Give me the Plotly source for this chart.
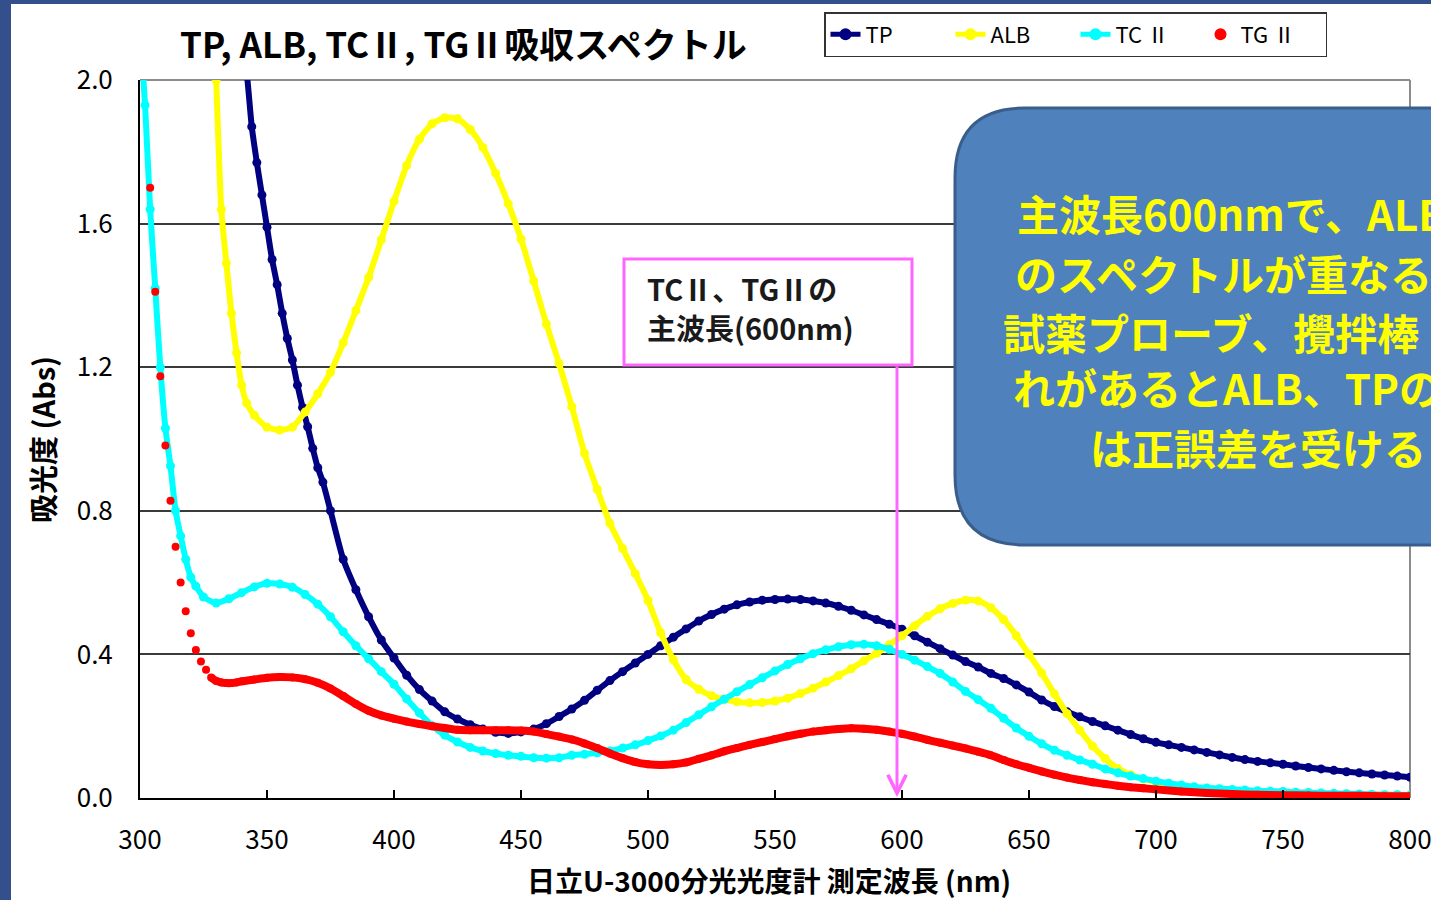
import plotly.graph_objects as go

# ---------------- data ----------------
tp_nm = [340, 342, 344, 346, 348, 350, 352, 354, 356, 358, 360, 362, 364, 366, 368, 370, 372,
         375, 380, 385, 390, 395, 400, 405, 410, 415, 420, 425, 430, 435, 440, 445, 450, 455, 460,
         465, 470, 475, 480, 485, 490, 495, 500, 505, 510, 515, 520, 525, 530, 535, 540, 545, 550,
         555, 560, 565, 570, 575, 580, 585, 590, 595, 600, 605, 610, 615, 620, 625, 630, 635, 640,
         645, 650, 655, 660, 665, 670, 675, 680, 685, 690, 695, 700, 705, 710, 715, 720, 725, 730,
         735, 740, 745, 750, 755, 760, 765, 770, 775, 780, 785, 790, 795, 800]
tp_abs = [2.10, 2.02, 1.87, 1.77, 1.68, 1.59, 1.50, 1.43, 1.35, 1.28, 1.22, 1.15, 1.088, 1.034, 0.974, 0.92, 0.88,
          0.80, 0.665, 0.58, 0.505, 0.44, 0.39, 0.342, 0.302, 0.27, 0.24, 0.22, 0.204, 0.192, 0.183, 0.180, 0.184, 0.192, 0.207,
          0.227, 0.248, 0.272, 0.300, 0.327, 0.352, 0.376, 0.400, 0.424, 0.448, 0.471, 0.493, 0.511, 0.526, 0.538, 0.546, 0.551, 0.553,
          0.554, 0.553, 0.549, 0.543, 0.534, 0.523, 0.510, 0.497, 0.484, 0.470, 0.452, 0.434, 0.416, 0.398, 0.380, 0.365, 0.347, 0.333,
          0.315, 0.295, 0.273, 0.255, 0.240, 0.226, 0.213, 0.201, 0.189, 0.177, 0.165, 0.155, 0.148, 0.141, 0.134, 0.127, 0.120, 0.113,
          0.107, 0.102, 0.098, 0.094, 0.089, 0.085, 0.081, 0.077, 0.073, 0.070, 0.067, 0.064, 0.061, 0.058]

alb_nm = [328, 330, 332, 334, 336, 338, 340, 342, 345, 350, 355, 360, 365, 370, 375, 380, 385, 390, 395,
          400, 405, 410, 415, 420, 425, 430, 435, 440, 445, 450, 455, 460, 465, 470, 475, 480, 485, 490, 495,
          500, 505, 510, 515, 520, 525, 530, 535, 540, 545, 550, 555, 560, 565, 570, 575, 580, 585, 590, 595,
          600, 605, 610, 615, 620, 625, 630, 635, 640, 645, 650, 655, 660, 665, 670, 675, 680, 685, 690, 695,
          700, 705, 710, 715, 720, 725, 730, 735, 740, 745, 750, 755, 760, 765, 770, 775, 780, 785, 790, 795, 800]
alb_abs = [2.45, 2.00, 1.64, 1.49, 1.35, 1.24, 1.15, 1.10, 1.066, 1.033, 1.025, 1.033, 1.075, 1.126, 1.186, 1.268, 1.358, 1.450, 1.555,
           1.662, 1.762, 1.835, 1.878, 1.895, 1.892, 1.862, 1.812, 1.740, 1.655, 1.557, 1.44, 1.32, 1.21, 1.09, 0.96, 0.86, 0.765, 0.695, 0.625,
           0.55, 0.46, 0.385, 0.33, 0.303, 0.285, 0.275, 0.268, 0.265, 0.266, 0.270, 0.278, 0.291, 0.306, 0.323, 0.341, 0.36, 0.382, 0.403, 0.427,
           0.452, 0.480, 0.506, 0.527, 0.542, 0.551, 0.549, 0.530, 0.497, 0.452, 0.400, 0.348, 0.290, 0.235, 0.189, 0.145, 0.110, 0.082, 0.065, 0.053,
           0.044, 0.036, 0.030, 0.027, 0.024, 0.022, 0.020, 0.019, 0.017, 0.016, 0.015, 0.014, 0.013, 0.012, 0.011, 0.011, 0.010, 0.010, 0.009, 0.009, 0.008]

tc_nm = [300, 302, 304, 306, 308, 310, 312, 314, 316, 318, 320, 322, 325, 330, 335, 340, 345, 350, 355,
         360, 365, 370, 375, 380, 385, 390, 395, 400, 405, 410, 415, 420, 425, 430, 435, 440, 445, 450, 455,
         460, 465, 470, 475, 480, 485, 490, 495, 500, 505, 510, 515, 520, 525, 530, 535, 540, 545, 550, 555,
         560, 565, 570, 575, 580, 585, 590, 595, 600, 605, 610, 615, 620, 625, 630, 635, 640, 645, 650, 655,
         660, 665, 670, 675, 680, 685, 690, 695, 700, 705, 710, 715, 720, 725, 730, 735, 740, 745, 750, 755,
         760, 765, 770, 775, 780, 785, 790, 795, 800]
tc_abs = [2.15, 1.93, 1.64, 1.42, 1.20, 1.03, 0.925, 0.80, 0.73, 0.665, 0.615, 0.59, 0.56, 0.543, 0.555, 0.572, 0.588, 0.598, 0.596,
          0.587, 0.567, 0.540, 0.505, 0.463, 0.424, 0.388, 0.352, 0.317, 0.276, 0.237, 0.201, 0.175, 0.156, 0.141, 0.131, 0.124, 0.119, 0.116, 0.112,
          0.111, 0.112, 0.119, 0.122, 0.126, 0.131, 0.139, 0.148, 0.160, 0.173, 0.189, 0.210, 0.232, 0.254, 0.275, 0.296, 0.316, 0.335, 0.354, 0.372,
          0.388, 0.402, 0.413, 0.421, 0.427, 0.428, 0.424, 0.414, 0.400, 0.384, 0.366, 0.347, 0.323, 0.297, 0.274, 0.250, 0.222, 0.195, 0.172, 0.151,
          0.133, 0.119, 0.106, 0.094, 0.081, 0.070, 0.061, 0.054, 0.047, 0.041, 0.036, 0.031, 0.028, 0.026, 0.024, 0.022, 0.020, 0.019, 0.018, 0.016,
          0.015, 0.014, 0.013, 0.012, 0.011, 0.010, 0.009, 0.009, 0.008]

tg_nm = [304, 306, 308, 310, 312, 314, 316, 318, 320, 322, 324, 326, 328, 330, 332, 334, 336, 338, 340,
         345, 350, 355, 360, 365, 370, 375, 380, 385, 390, 395, 400, 405, 410, 415, 420, 425, 430, 435, 440,
         445, 450, 455, 460, 465, 470, 475, 480, 485, 490, 495, 500, 505, 510, 515, 520, 525, 530, 535, 540,
         545, 550, 555, 560, 565, 570, 575, 580, 585, 590, 595, 600, 605, 610, 615, 620, 625, 630, 635, 640,
         645, 650, 655, 660, 665, 670, 675, 680, 685, 690, 695, 700, 710, 720, 730, 740, 750, 760, 770, 780, 790, 800]
tg_abs = [1.70, 1.41, 1.175, 0.982, 0.828, 0.700, 0.600, 0.520, 0.459, 0.412, 0.380, 0.357, 0.336, 0.326, 0.322, 0.320, 0.320, 0.322, 0.325,
          0.330, 0.335, 0.337, 0.336, 0.331, 0.321, 0.305, 0.284, 0.262, 0.243, 0.230, 0.221, 0.213, 0.206, 0.200, 0.195, 0.190, 0.189, 0.189, 0.189,
          0.189, 0.188, 0.185, 0.178, 0.171, 0.163, 0.152, 0.139, 0.124, 0.111, 0.100, 0.094, 0.092, 0.094, 0.099, 0.109, 0.119, 0.130, 0.139, 0.148,
          0.156, 0.164, 0.172, 0.179, 0.185, 0.189, 0.192, 0.194, 0.193, 0.190, 0.185, 0.179, 0.171, 0.162, 0.154, 0.146, 0.138, 0.129, 0.119, 0.106,
          0.094, 0.084, 0.074, 0.065, 0.057, 0.050, 0.044, 0.039, 0.034, 0.030, 0.027, 0.024, 0.018, 0.014, 0.011, 0.009, 0.008, 0.007, 0.006, 0.006, 0.005, 0.005]

x_ticks = [300, 350, 400, 450, 500, 550, 600, 650, 700, 750, 800]
y_ticks = [0.0, 0.4, 0.8, 1.2, 1.6, 2.0]

title_text = "TP, ALB, TCⅡ, TGⅡ吸収スペクトル"
y_title = "吸光度 (Abs)"
x_title = "日立U-3000分光光度計 測定波長 (nm)"
note_lines = ["TCⅡ、TGⅡの", "主波長(600nm)"]
box_lines = ["主波長600nmで、ALB", "のスペクトルが重なる", "試薬プローブ、攪拌棒", "れがあるとALB、TPの", "は正誤差を受ける"]

# ---------------- layout helpers (pixel -> paper) ----------------
L, R, T, B = 140, 1410, 80, 798
def fx(px):
    return (px - L) / (R - L)
def fy(py):
    return (B - py) / (B - T)

FONT = "Noto Sans CJK JP"
C_TP, C_ALB, C_TC, C_TG = "#000080", "#FFFF00", "#00FFFF", "#FF0000"

fig = go.Figure()
fig.add_trace(go.Scatter(x=tp_nm, y=tp_abs, name="TP", mode="lines+markers",
                         line=dict(color=C_TP, width=6, shape="spline", smoothing=0.6),
                         marker=dict(color=C_TP, size=9)))
fig.add_trace(go.Scatter(x=alb_nm, y=alb_abs, name="ALB", mode="lines+markers",
                         line=dict(color=C_ALB, width=6, shape="spline", smoothing=0.6),
                         marker=dict(color=C_ALB, size=9)))
fig.add_trace(go.Scatter(x=tc_nm, y=tc_abs, name="TC Ⅱ", mode="lines+markers",
                         line=dict(color=C_TC, width=6, shape="spline", smoothing=0.6),
                         marker=dict(color=C_TC, size=9)))
# dense TG II dots merge into a band once the curve flattens
k = tg_nm.index(328)
fig.add_trace(go.Scatter(x=tg_nm[k:], y=tg_abs[k:], mode="lines", showlegend=False, hoverinfo="skip",
                         line=dict(color=C_TG, width=8, shape="spline", smoothing=0.6)))
fig.add_trace(go.Scatter(x=tg_nm, y=tg_abs, name="TG Ⅱ", mode="markers",
                         marker=dict(color=C_TG, size=8)))

shapes = []
# slide frame strips
shapes.append(dict(type="rect", xref="paper", yref="paper", x0=fx(-5), x1=fx(11), y0=fy(905), y1=fy(-5),
                   fillcolor="#34508C", line=dict(width=0), layer="below"))
shapes.append(dict(type="rect", xref="paper", yref="paper", x0=fx(-5), x1=fx(1440), y0=fy(4), y1=fy(-5),
                   fillcolor="#34508C", line=dict(width=0), layer="below"))
# top / right plot border (gray)
shapes.append(dict(type="line", xref="paper", yref="paper", x0=0, x1=1, y0=1, y1=1,
                   line=dict(color="#8C8C8C", width=2), layer="below"))
shapes.append(dict(type="line", xref="paper", yref="paper", x0=1, x1=1, y0=0, y1=1,
                   line=dict(color="#8C8C8C", width=2), layer="below"))
# pink note box
shapes.append(dict(type="rect", xref="paper", yref="paper", x0=fx(624), x1=fx(912), y0=fy(365), y1=fy(259),
                   fillcolor="white", line=dict(color="#FF66FF", width=3), layer="above"))
# blue rounded call-out box
x0, x1, y0, y1, r = 955, 1520, 108, 545, 70
pts = [("M", x0 + r, y0), ("L", x1 - r, y0), ("Q", x1, y0, x1, y0 + r), ("L", x1, y1 - r),
       ("Q", x1, y1, x1 - r, y1), ("L", x0 + r, y1), ("Q", x0, y1, x0, y1 - r), ("L", x0, y0 + r),
       ("Q", x0, y0, x0 + r, y0)]
path = ""
for p in pts:
    if p[0] == "Q":
        path += f"Q{fx(p[1]):.5f},{fy(p[2]):.5f} {fx(p[3]):.5f},{fy(p[4]):.5f} "
    else:
        path += f"{p[0]}{fx(p[1]):.5f},{fy(p[2]):.5f} "
path += "Z"
shapes.append(dict(type="path", xref="paper", yref="paper", path=path,
                   fillcolor="#4F81BD", line=dict(color="#3A5E8C", width=3), layer="above"))

annotations = []
annotations.append(dict(text=title_text, xref="paper", yref="paper", x=fx(178), y=fy(43),
                        xanchor="left", yanchor="middle", showarrow=False,
                        font=dict(family=FONT, size=35, color="#000000", weight="bold")))
annotations.append(dict(text=y_title, xref="paper", yref="paper", x=fx(42), y=fy(440),
                        xanchor="center", yanchor="middle", showarrow=False, textangle=-90,
                        font=dict(family=FONT, size=29, color="#000000", weight="bold")))
annotations.append(dict(text=x_title, xref="paper", yref="paper", x=fx(769), y=fy(880),
                        xanchor="center", yanchor="middle", showarrow=False,
                        font=dict(family=FONT, size=28, color="#000000", weight="bold")))
for i, t in enumerate(note_lines):
    annotations.append(dict(text=t, xref="paper", yref="paper", x=fx(645), y=fy(288 + 39 * i),
                            xanchor="left", yanchor="middle", showarrow=False,
                            font=dict(family=FONT, size=29, color="#1a1a1a", weight="bold")))
box_x = [1015, 1013, 1001, 1011, 1088]
box_y = [212, 272, 331, 386, 446]
for t, bx, by in zip(box_lines, box_x, box_y):
    annotations.append(dict(text=t, xref="paper", yref="paper", x=fx(bx), y=fy(by),
                            xanchor="left", yanchor="middle", showarrow=False,
                            font=dict(family=FONT, size=42, color="#FFFF00", weight="bold")))
# pink arrow to 600 nm (tail offset given in pixels)
annotations.append(dict(text="", xref="paper", yref="paper", axref="pixel", ayref="pixel",
                        x=fx(897), y=fy(797), ax=0, ay=-(797 - 365), showarrow=True,
                        arrowhead=5, arrowsize=1.2, arrowwidth=3, arrowcolor="#FF66FF", standoff=0))

fig.update_layout(
    width=1431, height=900, autosize=False,
    margin=dict(l=L, r=1431 - R, t=T, b=900 - B, pad=0, autoexpand=False),
    paper_bgcolor="white", plot_bgcolor="white",
    font=dict(family=FONT, color="#000000"),
    showlegend=True,
    legend=dict(orientation="h", x=fx(824), y=fy(12), xanchor="left", yanchor="top",
                bgcolor="white", bordercolor="#333333", borderwidth=1.5,
                font=dict(family=FONT, size=22, color="#000000"),
                itemsizing="constant", entrywidth=80, entrywidthmode="pixels"),
    shapes=shapes, annotations=annotations,
)
fig.update_xaxes(range=[300, 800], tickvals=x_ticks, ticks="inside", ticklen=8, tickwidth=1.5,
                 tickcolor="#000000", showline=True, linecolor="#000000", linewidth=2,
                 showgrid=False, zeroline=False, ticklabelstandoff=18, ticklabeloverflow="allow",
                 automargin=False,
                 tickfont=dict(family=FONT, size=26, color="#000000"))
fig.update_yaxes(range=[0, 2.0], tickvals=y_ticks, tickformat=".1f", ticks="", showline=True,
                 linecolor="#000000", linewidth=2, showgrid=True, gridcolor="#3a3a3a", gridwidth=1.5,
                 zeroline=False, ticklabelstandoff=20, automargin=False,
                 tickfont=dict(family=FONT, size=26, color="#000000"))

fig.write_html("out.html", config={"responsive": False, "displayModeBar": False},
               post_script="document.body.style.margin='0';")
